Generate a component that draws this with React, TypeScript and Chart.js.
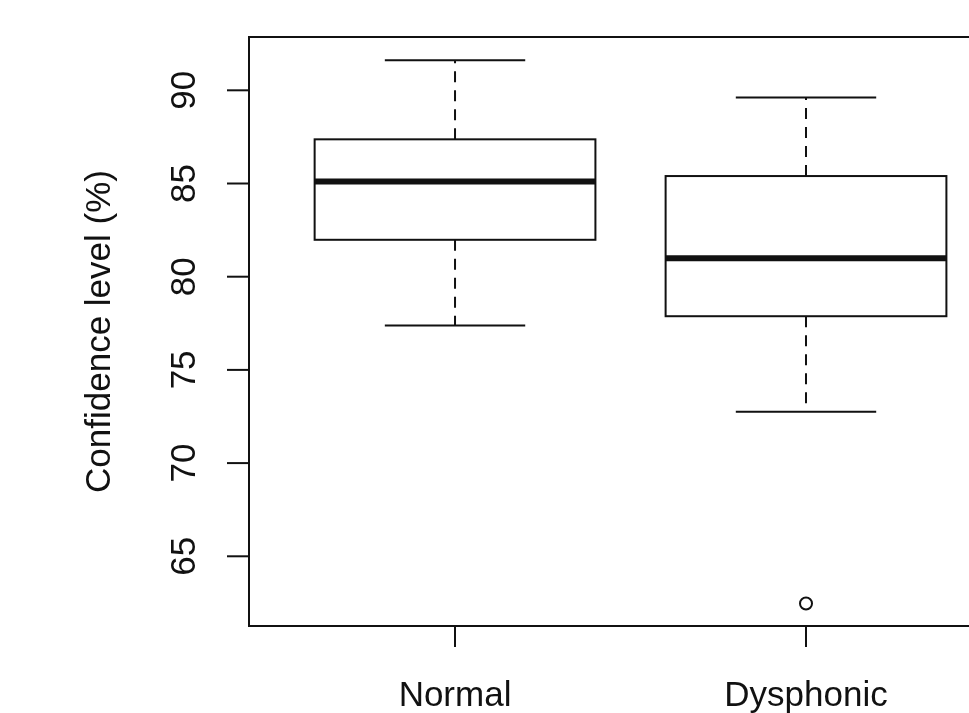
import React, { useEffect, useRef } from "react";
import { Chart, registerables } from "chart.js";

Chart.register(...registerables);

const categories = ["Normal", "Dysphonic"];
const whiskerLow = [77.38, 72.76];
const q1 = [81.98, 77.88];
const median = [85.11, 80.99];
const q3 = [87.37, 85.4];
const whiskerHigh = [91.61, 89.61];
const outlierGroup = [1];
const outlierValue = [62.47];
const yTicks = [65, 70, 75, 80, 85, 90];
const yTitle = "Confidence level (%)";

const FONT = '35px "Liberation Sans", Arial, sans-serif';
const INK = "#111111";

const boxPlugin = {
  id: "rbox",
  beforeDatasetsDraw(chart: any) {
    const { ctx, scales } = chart;
    const x = scales.x;
    const y = scales.y;
    ctx.save();
    ctx.strokeStyle = INK;
    categories.forEach((_, i) => {
      const c = x.getPixelForValue(i + 1);
      const bl = x.getPixelForValue(i + 1 - 0.4);
      const br = x.getPixelForValue(i + 1 + 0.4);
      const sl = x.getPixelForValue(i + 1 - 0.2);
      const sr = x.getPixelForValue(i + 1 + 0.2);
      const yq1 = y.getPixelForValue(q1[i]);
      const yq3 = y.getPixelForValue(q3[i]);
      const ym = y.getPixelForValue(median[i]);
      const ylo = y.getPixelForValue(whiskerLow[i]);
      const yhi = y.getPixelForValue(whiskerHigh[i]);
      ctx.lineWidth = 2;
      ctx.setLineDash([11, 8]);
      ctx.beginPath();
      ctx.moveTo(c, yq3);
      ctx.lineTo(c, yhi);
      ctx.moveTo(c, yq1);
      ctx.lineTo(c, ylo);
      ctx.stroke();
      ctx.setLineDash([]);
      ctx.beginPath();
      ctx.moveTo(sl, yhi);
      ctx.lineTo(sr, yhi);
      ctx.moveTo(sl, ylo);
      ctx.lineTo(sr, ylo);
      ctx.stroke();
      ctx.fillStyle = "#ffffff";
      ctx.fillRect(bl, yq3, br - bl, yq1 - yq3);
      ctx.strokeRect(bl, yq3, br - bl, yq1 - yq3);
      ctx.lineWidth = 6;
      ctx.beginPath();
      ctx.moveTo(bl, ym);
      ctx.lineTo(br, ym);
      ctx.stroke();
    });
    ctx.restore();
  },
  afterDraw(chart: any) {
    const { ctx, scales, chartArea } = chart;
    const x = scales.x;
    const y = scales.y;
    const farRight = chart.width + 5;
    ctx.save();
    ctx.strokeStyle = INK;
    ctx.fillStyle = INK;
    ctx.lineWidth = 2;
    ctx.beginPath();
    ctx.moveTo(farRight, chartArea.top);
    ctx.lineTo(chartArea.left, chartArea.top);
    ctx.lineTo(chartArea.left, chartArea.bottom);
    ctx.lineTo(farRight, chartArea.bottom);
    ctx.stroke();
    ctx.font = FONT;
    yTicks.forEach((v) => {
      const py = y.getPixelForValue(v);
      ctx.beginPath();
      ctx.moveTo(chartArea.left, py);
      ctx.lineTo(chartArea.left - 22, py);
      ctx.stroke();
      ctx.save();
      ctx.translate(chartArea.left - 54, py);
      ctx.rotate(-Math.PI / 2);
      ctx.textAlign = "center";
      ctx.textBaseline = "alphabetic";
      ctx.fillText(String(v), 0, 0);
      ctx.restore();
    });
    categories.forEach((lab, i) => {
      const px = x.getPixelForValue(i + 1);
      ctx.beginPath();
      ctx.moveTo(px, chartArea.bottom);
      ctx.lineTo(px, chartArea.bottom + 21);
      ctx.stroke();
      ctx.textAlign = "center";
      ctx.textBaseline = "alphabetic";
      ctx.fillText(lab, px, chartArea.bottom + 80);
    });
    ctx.save();
    ctx.translate(chartArea.left - 139, (chartArea.top + chartArea.bottom) / 2);
    ctx.rotate(-Math.PI / 2);
    ctx.textAlign = "center";
    ctx.textBaseline = "alphabetic";
    ctx.fillText(yTitle, 0, 0);
    ctx.restore();
    ctx.restore();
  },
};

export default function App() {
  const ref = useRef<HTMLCanvasElement | null>(null);
  useEffect(() => {
    if (!ref.current) return;
    const chart = new Chart(ref.current, {
      type: "scatter",
      data: {
        datasets: [
          {
            label: "outliers",
            data: outlierGroup.map((g, i) => ({ x: g + 1, y: outlierValue[i] })),
            pointRadius: 6,
            pointHoverRadius: 6,
            pointBorderWidth: 2,
            pointBorderColor: INK,
            pointBackgroundColor: "rgba(0,0,0,0)",
          },
        ],
      },
      options: {
        animation: false,
        responsive: false,
        events: [],
        layout: { padding: { left: 249, top: 37, bottom: 87, right: 0 } },
        plugins: { legend: { display: false }, tooltip: { enabled: false } },
        scales: {
          x: { type: "linear", min: 0.413, max: 2.4416, display: false },
          y: { type: "linear", min: 61.26, max: 92.86, display: false },
        },
      },
      plugins: [boxPlugin],
    });
    return () => chart.destroy();
  }, []);
  return (
    <div style={{ position: "fixed", left: 0, top: 0, width: 969, height: 713, background: "#fff" }}>
      <canvas ref={ref} width={969} height={713} />
    </div>
  );
}
